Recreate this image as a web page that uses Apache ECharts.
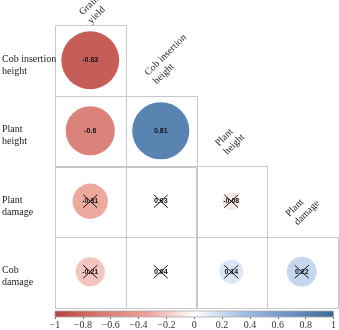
<!DOCTYPE html>
<html><head><meta charset="utf-8">
<script src="https://cdn.jsdelivr.net/npm/echarts@6/dist/echarts.min.js"></script>
<style>html,body{margin:0;padding:0;background:#fff}#c{width:339px;height:330px}</style>
</head><body><div id="c"></div>
<script>
var rowNames = ["Cob insertion\nheight", "Plant\nheight", "Plant\ndamage", "Cob\ndamage"];
var colNames = ["Grain\nyield", "Cob insertion\nheight", "Plant\nheight", "Plant\ndamage"];
// lower-triangle correlation values, row by row
var row1 = [-0.83];
var row2 = [-0.6, 0.81];
var row3 = [-0.31, 0.03, -0.08];
var row4 = [-0.21, 0.04, 0.14, 0.22];
// significance flags (1 = significant, 0 = crossed out)
var sig1 = [1];
var sig2 = [1, 1];
var sig3 = [0, 0, 0];
var sig4 = [0, 0, 0, 0];
var barTicks = [-1, -0.8, -0.6, -0.4, -0.2, 0, 0.2, 0.4, 0.6, 0.8, 1];
var palette = ["#b3403f", "#d67b72", "#eda298", "#ffffff", "#a7c1e7", "#6f95c6", "#3b6a96"];

var rows = [row1, row2, row3, row4];
var sigs = [sig1, sig2, sig3, sig4];
var cells = [], points = [], crosses = [], colLab = [], rowLab = [];
rows.forEach(function (r, i) {
  r.forEach(function (v, j) {
    cells.push([j, i]);
    points.push([j, i, v]);
    if (!sigs[i][j]) crosses.push([j, i]);
  });
});
colNames.forEach(function (n, j) { colLab.push([j, j]); });
rowNames.forEach(function (n, i) { rowLab.push([0, i]); });

var serif = "Liberation Serif";
var chart = echarts.init(document.getElementById('c'));
chart.setOption({
  animation: false,
  grid: [
    {left: 55, top: 25, width: 282, height: 282},
    {left: 55, top: 311, width: 282, height: 7}
  ],
  xAxis: [
    {type: 'category', gridIndex: 0, data: colNames, axisLine: {show: false}, axisTick: {show: false}, axisLabel: {show: false}, splitLine: {show: false}},
    {type: 'value', gridIndex: 1, min: barTicks[0], max: barTicks[barTicks.length - 1], interval: 0.2, axisLine: {show: false},
      axisTick: {show: true, length: 2, lineStyle: {color: '#666'}},
      splitLine: {show: false},
      axisLabel: {margin: 3, fontFamily: serif, fontSize: 10, color: '#333',
        formatter: function (v) { var s = String(Math.round(v * 10) / 10); return s.replace('-', '\u2212'); }}}
  ],
  yAxis: [
    {type: 'category', gridIndex: 0, data: rowNames, inverse: true, axisLine: {show: false}, axisTick: {show: false}, splitLine: {show: false}, axisLabel: {show: false}},
    {type: 'value', gridIndex: 1, min: 0, max: 1, show: false}
  ],
  visualMap: {type: 'continuous', show: false, min: -1, max: 1, dimension: 2, seriesIndex: 1, inRange: {color: palette}},
  series: [
    {type: 'custom', xAxisIndex: 0, yAxisIndex: 0, data: cells, z: 1,
      renderItem: function (params, api) {
        var c = api.coord([api.value(0), api.value(1)]);
        var s = api.size([1, 1]);
        return {type: 'rect', shape: {x: Math.round(c[0] - s[0] / 2) + 0.5, y: Math.round(c[1] - s[1] / 2) + 0.5, width: Math.round(s[0]), height: Math.round(s[1])},
          style: {fill: 'none', stroke: '#c8c8c8', lineWidth: 1}};
      }},
    {type: 'scatter', xAxisIndex: 0, yAxisIndex: 0, data: points, z: 2,
      symbolSize: function (val) { return 63.5 * Math.sqrt(Math.abs(val[2])); },
      itemStyle: {opacity: 1},
      label: {show: true, position: 'inside', fontFamily: 'Liberation Sans', fontSize: 7, fontWeight: 'bold', color: '#111',
        formatter: function (p) { return String(p.value[2]); }}},
    {type: 'custom', xAxisIndex: 0, yAxisIndex: 0, data: crosses, z: 3,
      renderItem: function (params, api) {
        var c = api.coord([api.value(0), api.value(1)]);
        var w = 7, h = 6.5;
        return {type: 'group', children: [
          {type: 'line', shape: {x1: c[0] - w, y1: c[1] - h, x2: c[0] + w, y2: c[1] + h}, style: {stroke: '#111', lineWidth: 1}},
          {type: 'line', shape: {x1: c[0] - w, y1: c[1] + h, x2: c[0] + w, y2: c[1] - h}, style: {stroke: '#111', lineWidth: 1}}
        ]};
      }},
    {type: 'custom', xAxisIndex: 0, yAxisIndex: 0, data: colLab, z: 4,
      renderItem: function (params, api) {
        var c = api.coord([api.value(0), api.value(1)]);
        var s = api.size([1, 1]);
        var y = c[1] - s[1] / 2 - 17;
        var d = Math.max(0, 18 - y);
        return {type: 'text', x: c[0] - 10 + d * 0.5, y: y + d, rotation: Math.PI / 4,
          style: {text: colNames[params.dataIndex], x: 0, y: 0, align: 'left', verticalAlign: 'middle',
            font: '10px "Liberation Serif"', lineHeight: 12, fill: '#222'}};
      }},
    {type: 'custom', xAxisIndex: 0, yAxisIndex: 0, data: rowLab, z: 4,
      renderItem: function (params, api) {
        var c = api.coord([api.value(0), api.value(1)]);
        var s = api.size([1, 1]);
        return {type: 'text', x: c[0] - s[0] / 2 - 53, y: c[1] + 5,
          style: {text: rowNames[params.dataIndex], x: 0, y: 0, align: 'left', verticalAlign: 'middle',
            font: '10px "Liberation Serif"', lineHeight: 12, fill: '#222'}};
      }},
    {type: 'custom', xAxisIndex: 1, yAxisIndex: 1, data: [[-1, 0, 1, 1]], z: 1,
      renderItem: function (params, api) {
        var a = api.coord([api.value(0), api.value(1)]);
        var b = api.coord([api.value(2), api.value(3)]);
        var stops = palette.map(function (col, k) { return {offset: k / (palette.length - 1), color: col}; });
        return {type: 'rect', shape: {x: a[0], y: b[1], width: b[0] - a[0], height: a[1] - b[1]},
          style: {fill: new echarts.graphic.LinearGradient(0, 0, 1, 0, stops), stroke: '#aaa', lineWidth: 0.8}};
      }}
  ]
});
</script></body></html>
